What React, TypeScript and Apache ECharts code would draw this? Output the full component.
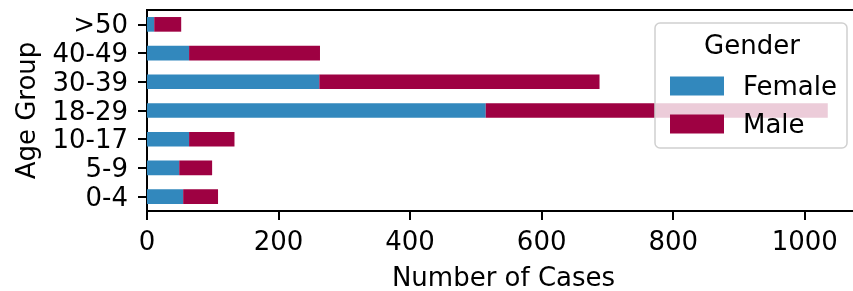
import React, { useEffect, useRef } from "react";
import * as echarts from "echarts";

const ageGroups = ["0-4", "5-9", "10-17", "18-29", "30-39", "40-49", ">50"];
const femaleCases = [55, 49, 64, 515, 262, 64, 11];
const maleCases = [53, 50, 69, 520, 426, 199, 41];
const xTicks = [0, 200, 400, 600, 800, 1000];
const legendTitle = "Gender";

const FONT = "DejaVu Sans";
const FS = 26;

export default function App() {
  const ref = useRef<HTMLDivElement>(null);
  useEffect(() => {
    if (!ref.current) return;
    const chart = echarts.init(ref.current, null, { renderer: "svg" });
    chart.setOption({
      animation: false,
      textStyle: { fontFamily: FONT },
      grid: {
        left: 147,
        top: 10,
        width: 713,
        height: 201,
        containLabel: false,
        outerBoundsMode: "none",
        show: true,
        borderColor: "#000",
        borderWidth: 2,
        backgroundColor: "transparent",
      },
      xAxis: {
        type: "value",
        min: 0,
        max: 1084,
        interval: 200,
        name: "Number of Cases",
        nameLocation: "middle",
        nameGap: 53,
        nameTextStyle: { fontSize: FS, lineHeight: 26, color: "#000", fontFamily: FONT },
        axisLine: { show: true, lineStyle: { color: "#000", width: 2 } },
        axisTick: { show: true, length: 9, lineStyle: { color: "#000", width: 2 } },
        axisLabel: {
          fontSize: FS,
          color: "#000",
          margin: 17,
          fontFamily: FONT,
          showMaxLabel: false,
          formatter: (v: number) => (xTicks.includes(v) ? String(v) : ""),
        },
        splitLine: { show: false },
      },
      yAxis: {
        type: "category",
        data: ageGroups,
        name: "Age Group",
        nameLocation: "middle",
        nameRotate: 90,
        nameGap: 108,
        nameTextStyle: { fontSize: FS, color: "#000", fontFamily: FONT },
        axisLine: { show: true, lineStyle: { color: "#000", width: 2 } },
        axisTick: { show: true, alignWithLabel: true, length: 9, lineStyle: { color: "#000", width: 2 } },
        axisLabel: { interval: 0, fontSize: FS, color: "#000", margin: 19, fontFamily: FONT },
        splitLine: { show: false },
      },
      legend: {
        show: true,
        orient: "vertical",
        left: 665,
        top: 68,
        itemWidth: 54,
        itemHeight: 19,
        itemGap: 12,
        icon: "rect",
        z: 20,
        data: ["Female", "Male"],
        textStyle: { fontSize: FS, color: "#000", fontFamily: FONT, padding: [0, 0, 0, 14] },
      },
      graphic: [
        {
          type: "rect",
          z: 10,
          shape: { x: 655, y: 23, width: 192, height: 125, r: 5 },
          style: { fill: "rgba(255,255,255,0.8)", stroke: "#d0d0d0", lineWidth: 1.5 },
        },
        {
          type: "text",
          z: 21,
          x: 752,
          y: 45,
          style: {
            text: legendTitle,
            fontSize: FS,
            fontFamily: FONT,
            fill: "#000",
            align: "center",
            verticalAlign: "middle",
          },
        },
      ],
      series: [
        {
          name: "Female",
          type: "bar",
          stack: "total",
          barWidth: "51%",
          itemStyle: { color: "#3288bd" },
          data: femaleCases,
        },
        {
          name: "Male",
          type: "bar",
          stack: "total",
          barWidth: "51%",
          itemStyle: { color: "#9e0142" },
          data: maleCases,
        },
      ],
    });
    return () => chart.dispose();
  }, []);
  return (
    <div
      ref={ref}
      style={{ position: "fixed", left: 0, top: 0, width: 853, height: 291 }}
    />
  );
}
